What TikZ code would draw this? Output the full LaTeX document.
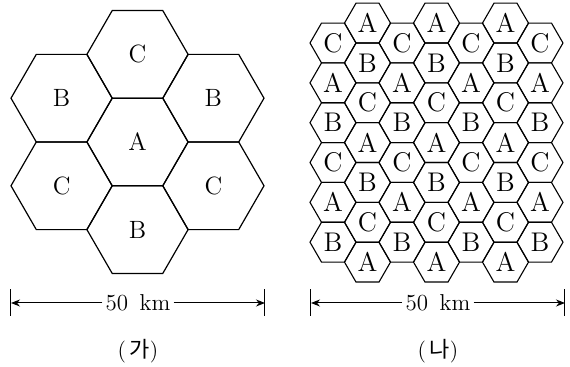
\documentclass[tikz,border=0pt]{standalone}
\usepackage{fontspec}
\newfontfamily\kr{Noto Sans CJK KR}
\usetikzlibrary{shapes.geometric,arrows.meta}

\begin{document}
\begin{tikzpicture}[x=0.5pt,y=-0.5pt,
		bighex/.style={draw, regular polygon, regular polygon sides=6, minimum size=50.6pt, inner sep=0pt, line width=0.6pt, font=\fontsize{12.5}{15}\selectfont},
		smallhex/.style={draw, regular polygon, regular polygon sides=6, minimum size=23pt, inner sep=0pt, line width=0.55pt, font=\fontsize{13.5}{16}\selectfont},
		dimtick/.style={line width=0.5pt},
		dimarrow/.style={line width=0.5pt, -{Stealth[length=4.5pt,width=3.5pt]}},
		dimlabel/.style={inner sep=1.5pt, font=\fontsize{11.5}{14}\selectfont},
		caption/.style={font=\fontsize{11}{13}\selectfont}]
		\useasboundingbox (0,0) rectangle (570,367);
		% (ga): one cell A and six around it
		\node[bighex] (a) at (137.5,142) {A};
		\node[bighex] (c-top) at (137.5,54.4) {C};
		\node[bighex] (b-bot) at (137.5,229.6) {B};
		\node[bighex] (b-left) at (61.6,98.2) {B};
		\node[bighex] (b-right) at (213.4,98.2) {B};
		\node[bighex] (c-left) at (61.6,185.8) {C};
		\node[bighex] (c-right) at (213.4,185.8) {C};
		% (na): small cells, seven columns
		\foreach \i in {0,2,4,6}
			\foreach \j/\l in {0/C,1/A,2/B,3/C,4/A,5/B}
				\node[smallhex] (s-\i-\j) at ({333+34.5*\i},{43+39.84*\j}) {\l};
		\foreach \i in {1,3,5}
			\foreach \j/\l in {0/A,1/B,2/C,3/A,4/B,5/C,6/A}
				\node[smallhex] (s-\i-\j) at ({333+34.5*\i},{23.1+39.84*\j}) {\l};
		% scale bars
		\coordinate (ga-l) at (11,303);
		\coordinate (ga-r) at (265,303);
		\coordinate (na-l) at (311,303);
		\coordinate (na-r) at (565,303);
		\foreach \c in {ga-l,ga-r,na-l,na-r}
			\draw[dimtick] (\c) ++(0,-13.5) -- ++(0,27);
		\node[dimlabel] (km-ga) at (138,303) {50\enspace km};
		\node[dimlabel] (km-na) at (438,303) {50\enspace km};
		\draw[dimarrow] (km-ga) -- (ga-l);
		\draw[dimarrow] (km-ga) -- (ga-r);
		\draw[dimarrow] (km-na) -- (na-l);
		\draw[dimarrow] (km-na) -- (na-r);
		\node[caption] (cap-ga) at (138,351) {(\,{\kr 가})};
		\node[caption] (cap-na) at (438,351) {(\,{\kr 나})};
	\end{tikzpicture}
\end{document}
